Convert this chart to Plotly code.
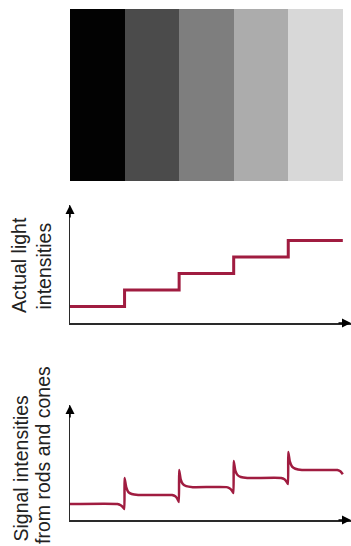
import plotly.graph_objects as go

# ---- data ----
bar_positions = [0.5, 1.5, 2.5, 3.5, 4.5]
bar_heights = [1, 1, 1, 1, 1]
bar_colors = ["#020202", "#4b4b4b", "#7e7e7e", "#acacac", "#d8d8d8"]

light_x = [0, 1, 2, 3, 4, 5]
light_y = [1, 2, 3, 4, 5, 5]

signal_x = [0, 0.87, 0.93, 0.97, 0.995, 1.0, 1.03, 1.07, 1.13, 1.25,
            1.87, 1.93, 1.97, 1.995, 2.0, 2.03, 2.07, 2.13, 2.25,
            2.87, 2.93, 2.97, 2.995, 3.0, 3.03, 3.07, 3.13, 3.25,
            3.87, 3.93, 3.97, 3.995, 4.0, 4.03, 4.07, 4.13, 4.25,
            4.9, 4.96, 5.0]
signal_y = [0.98, 0.98, 0.9, 0.78, 0.67, 2.56, 2.0, 1.7, 1.58, 1.52,
            1.52, 1.44, 1.28, 1.1, 3.04, 2.45, 2.18, 2.06, 2.0,
            2.0, 1.92, 1.78, 1.64, 3.59, 3.0, 2.74, 2.62, 2.56,
            2.56, 2.48, 2.33, 2.19, 4.14, 3.55, 3.25, 3.12, 3.04,
            3.04, 2.95, 2.78]

label_top = ["Actual light", "intensities"]
label_bottom = ["Signal intensities", "from rods and cones"]

# ---- layout constants ----
W, H = 351, 546
LINE_COLOR = "#a01c40"
AXIS_COLOR = "#2a2a2a"
XDOM = [70 / W, 1.0]
XRANGE = [0, 5.15]


def ydom(top_px, bottom_px):
    return [1 - bottom_px / H, 1 - top_px / H]


fig = go.Figure()

fig.add_trace(go.Bar(x=bar_positions, y=bar_heights, width=1,
                     marker=dict(color=bar_colors, line=dict(width=0)),
                     xaxis="x", yaxis="y", hoverinfo="skip"))

fig.add_trace(go.Scatter(x=light_x, y=light_y, mode="lines",
                         line=dict(color=LINE_COLOR, width=3, shape="hv"),
                         xaxis="x2", yaxis="y2", hoverinfo="skip"))

fig.add_trace(go.Scatter(x=signal_x, y=signal_y, mode="lines",
                         line=dict(color=LINE_COLOR, width=2.5, shape="spline", smoothing=0.4),
                         xaxis="x3", yaxis="y3", hoverinfo="skip"))

hidden = dict(showgrid=False, zeroline=False, showticklabels=False, ticks="", fixedrange=True)
axis_vis = dict(showgrid=False, zeroline=False, showticklabels=False, ticks="",
                showline=True, linecolor=AXIS_COLOR, linewidth=1.5)

fig.update_layout(
    width=W, height=H,
    margin=dict(l=0, r=0, t=0, b=0),
    paper_bgcolor="white", plot_bgcolor="white",
    showlegend=False,
    bargap=0,
    xaxis=dict(domain=XDOM, range=XRANGE, anchor="y", showline=False, **hidden),
    yaxis=dict(domain=ydom(9, 181), range=[0, 1], anchor="x", showline=False, **hidden),
    xaxis2=dict(domain=XDOM, range=XRANGE, anchor="y2", **axis_vis),
    yaxis2=dict(domain=ydom(205, 323), range=[0, 7.15], anchor="x2", **axis_vis),
    xaxis3=dict(domain=XDOM, range=XRANGE, anchor="y3", **axis_vis),
    yaxis3=dict(domain=ydom(405, 520), range=[0, 7.0], anchor="x3", **axis_vis),
)

annotations = []
for xa, ya, ytop in [("x2", "y2", 7.15), ("x3", "y3", 7.0)]:
    annotations.append(dict(x=XRANGE[1], y=0, xref=xa, yref=ya, ax=-14, ay=0,
                            showarrow=True, arrowhead=2, arrowsize=1.2, arrowwidth=1.5,
                            arrowcolor="black", text=""))
    annotations.append(dict(x=0, y=ytop, xref=xa, yref=ya, ax=0, ay=14,
                            showarrow=True, arrowhead=2, arrowsize=1.2, arrowwidth=1.5,
                            arrowcolor="black", text=""))

FONT = dict(family="Liberation Sans, Arial, sans-serif", size=19.5, color="#222222")
# (text, center x px, bottom y px)
label_specs = [
    (label_top[0], 19, 315),
    (label_top[1], 43, 312),
    (label_bottom[0], 20, 544),
    (label_bottom[1], 43, 546),
]
for txt, cx, by in label_specs:
    annotations.append(dict(text=txt, textangle=-90, showarrow=False,
                            xref="paper", yref="paper", x=cx / W, y=1 - by / H,
                            xanchor="center", yanchor="bottom", font=FONT))

fig.update_layout(annotations=annotations)

fig.write_html("out.html", config={"displayModeBar": False, "staticPlot": True},
               post_script="document.body.style.margin='0';")
